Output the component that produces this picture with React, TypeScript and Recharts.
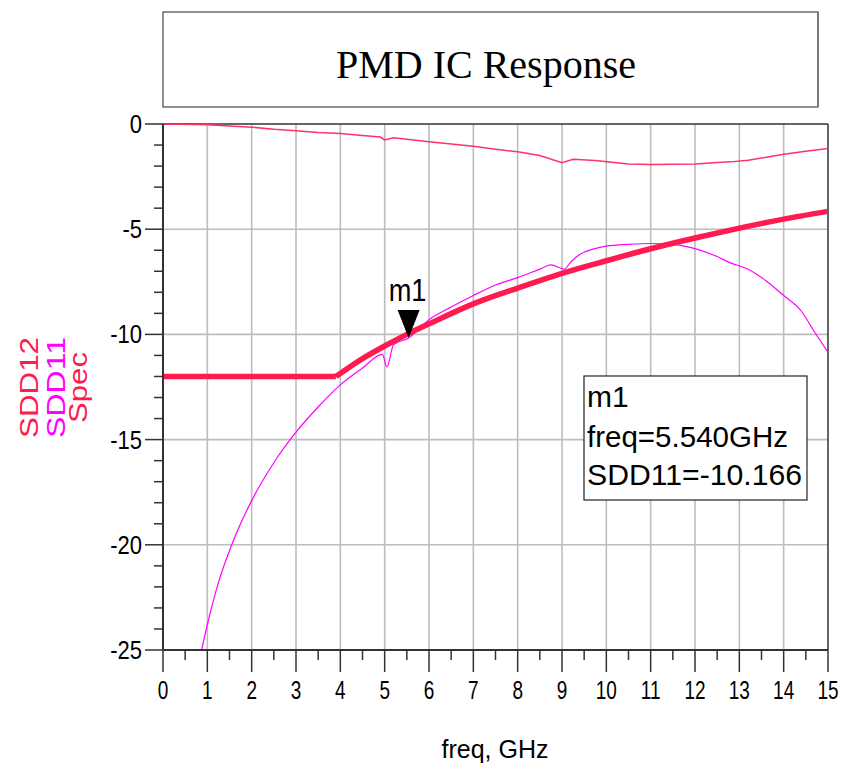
import React from 'react';
import { LineChart, Line, XAxis, YAxis, CartesianGrid, ReferenceLine, ReferenceDot } from 'recharts';

// 周波数 (GHz) と dB 値は図から読み取った
const sdd12Freq = [0, 1, 1.5, 2, 2.5, 3, 3.5, 4, 4.5, 4.9, 5.0, 5.2, 5.5, 6, 6.5, 7, 7.5, 8, 8.5, 9, 9.25, 9.75, 10.5, 11, 12, 12.5, 12.8, 13.2, 13.5, 14, 14.5, 15];
const sdd12Db = [0, -0.03, -0.1, -0.15, -0.25, -0.32, -0.4, -0.45, -0.55, -0.62, -0.76, -0.65, -0.72, -0.84, -0.95, -1.06, -1.2, -1.32, -1.5, -1.84, -1.68, -1.73, -1.9, -1.92, -1.9, -1.83, -1.8, -1.72, -1.62, -1.44, -1.3, -1.17];

const sdd11Freq = [0.87, 1.0, 1.25, 1.55, 2.0, 2.5, 3.0, 3.5, 4.0, 4.5, 4.95, 5.05, 5.2, 5.54, 6.0, 6.5, 7.0, 7.5, 8.0, 8.5, 8.75, 9.05, 9.2, 9.4, 9.7, 10, 10.5, 11, 11.5, 12, 12.5, 12.8, 13.2, 13.6, 14, 14.4, 14.7, 15];
const sdd11Db = [-25, -23.8, -21.8, -20, -17.9, -16.1, -14.65, -13.45, -12.4, -11.6, -10.95, -11.55, -10.5, -10.166, -9.3, -8.7, -8.15, -7.65, -7.3, -6.9, -6.7, -6.9, -6.55, -6.2, -5.95, -5.8, -5.72, -5.68, -5.72, -5.92, -6.3, -6.6, -6.9, -7.45, -8.15, -8.9, -9.9, -10.85];

// Spec: 3.9 GHz までは平坦、その後はゆるやかに上昇
const specFlatFreq = [0, 3.9];
const specFlatDb = [-12, -12];
const specRiseFreq = [3.9, 4.5, 5, 5.5, 6, 7, 8, 9, 10, 11, 12, 13, 14, 15];
const specRiseDb = [-12, -11.15, -10.55, -10.0, -9.5, -8.55, -7.8, -7.1, -6.5, -5.93, -5.42, -4.95, -4.52, -4.15];

const xTicks = [0, 0.5, 1, 1.5, 2, 2.5, 3, 3.5, 4, 4.5, 5, 5.5, 6, 6.5, 7, 7.5, 8, 8.5, 9, 9.5, 10, 10.5, 11, 11.5, 12, 12.5, 13, 13.5, 14, 14.5, 15];
const yTicks = [-25, -24, -23, -22, -21, -20, -19, -18, -17, -16, -15, -14, -13, -12, -11, -10, -9, -8, -7, -6, -5, -4, -3, -2, -1, 0];
const xGrid = [1, 2, 3, 4, 5, 6, 7, 8, 9, 10, 11, 12, 13, 14];
const yGrid = [-20, -15, -10, -5];

const markerFreq = 5.54;
const markerDb = -10.166;

const toRows = (f: number[], v: number[]) => f.map((x, i) => ({ f: x, v: v[i] }));

const sdd12Data = toRows(sdd12Freq, sdd12Db);
const sdd11Data = toRows(sdd11Freq, sdd11Db);
const specFlatData = toRows(specFlatFreq, specFlatDb);
const specRiseData = toRows(specRiseFreq, specRiseDb);

const RED = '#ff1a4f';
const MAGENTA = '#ff00ff';
const AXIS = '#333333';
const FONT = '"Liberation Sans", Arial, sans-serif';

const XTick = (props: any) => {
    const { x, y, payload } = props;
    const major = Number.isInteger(payload.value);
    return (
        <g>
            <line x1={x} y1={y} x2={x} y2={y + (major ? 22 : 10)} stroke={AXIS} strokeWidth={1.5} />
            {major && (
                <text
                    transform={`translate(${x},${y + 49}) scale(0.76,1)`}
                    textAnchor="middle"
                    fontSize={25}
                    fontFamily={FONT}
                    fill="#000"
                >
                    {payload.value}
                </text>
            )}
        </g>
    );
};

const YTick = (props: any) => {
    const { x, y, payload } = props;
    const major = payload.value % 5 === 0;
    return (
        <g>
            <line x1={x - (major ? 18 : 9)} y1={y} x2={x} y2={y} stroke={AXIS} strokeWidth={1.5} />
            {major && (
                <text
                    transform={`translate(${x - 21},${y + 9}) scale(0.88,1)`}
                    textAnchor="end"
                    fontSize={25}
                    fontFamily={FONT}
                    fill="#000"
                >
                    {payload.value}
                </text>
            )}
        </g>
    );
};

const MarkerShape = (props: any) => {
    const { cx, cy } = props;
    return (
        <g>
            <path d={`M ${cx} ${cy} L ${cx - 11} ${cy - 28} L ${cx + 11} ${cy - 28} Z`} fill="#000" />
            <text
                transform={`translate(${cx - 1},${cy - 37}) scale(0.85,1)`}
                textAnchor="middle"
                fontSize={32}
                fontFamily={FONT}
                fill="#000"
            >
                m1
            </text>
        </g>
    );
};

export default function App() {
    return (
        <div style={{ position: 'relative', width: 841, height: 760 }}>
            <LineChart
                width={841}
                height={760}
                margin={{ top: 116, right: 21, left: 95, bottom: 58 }}
            >
                <CartesianGrid
                    stroke="#bdbdbd"
                    strokeWidth={1.6}
                    horizontalValues={yGrid}
                    verticalValues={xGrid}
                />
                <XAxis
                    type="number"
                    dataKey="f"
                    domain={[0, 15]}
                    ticks={xTicks}
                    interval={0}
                    height={60}
                    tickSize={0}
                    tickMargin={0}
                    tickLine={false}
                    axisLine={{ stroke: AXIS, strokeWidth: 2 }}
                    tick={<XTick />}
                    allowDataOverflow
                />
                <YAxis
                    type="number"
                    domain={[-25, 0]}
                    ticks={yTicks}
                    interval={0}
                    width={60}
                    tickSize={0}
                    tickMargin={0}
                    tickLine={false}
                    axisLine={{ stroke: AXIS, strokeWidth: 2 }}
                    tick={<YTick />}
                    allowDataOverflow
                />
                <ReferenceLine y={0} stroke={AXIS} strokeWidth={1.5} />
                <ReferenceLine x={15} stroke={AXIS} strokeWidth={1.5} />
                <Line data={sdd12Data} dataKey="v" type="linear" stroke="#ff3366" strokeWidth={1.5} dot={false} isAnimationActive={false} />
                <Line data={sdd11Data} dataKey="v" type="monotone" stroke={MAGENTA} strokeWidth={1.2} dot={false} isAnimationActive={false} />
                <Line data={specFlatData} dataKey="v" type="linear" stroke={RED} strokeWidth={5.5} dot={false} isAnimationActive={false} />
                <Line data={specRiseData} dataKey="v" type="monotone" stroke={RED} strokeWidth={5.5} dot={false} isAnimationActive={false} />
                <ReferenceDot x={markerFreq} y={markerDb} r={0} shape={<MarkerShape />} />
            </LineChart>

            <svg width={841} height={760} style={{ position: 'absolute', left: 0, top: 0, pointerEvents: 'none' }}>
                <rect x={155} y={4} width={655} height={95} fill="#fff" stroke="#222" strokeWidth={1} />
                <line x1={810} y1={4} x2={810} y2={99} stroke="#777" strokeWidth={2} />
                <text x={478} y={70} textAnchor="middle" fontSize={40} fontFamily='"Liberation Serif", "Times New Roman", serif' fill="#000">
                    PMD IC Response
                </text>

                <rect x={576} y={368} width={223} height={124} fill="#fff" stroke="#222" strokeWidth={1.2} />
                <text x={579} y={399} fontSize={30} fontFamily={FONT} fill="#000">m1</text>
                <text x={579} y={439} fontSize={30} fontFamily={FONT} fill="#000" textLength={201} lengthAdjust="spacingAndGlyphs">freq=5.540GHz</text>
                <text x={579} y={477} fontSize={30} fontFamily={FONT} fill="#000" textLength={215} lengthAdjust="spacingAndGlyphs">SDD11=-10.166</text>

                <text transform="translate(30,379.5) rotate(-90)" textAnchor="middle" fontSize={25} fontFamily={FONT} fill={RED} textLength={101} lengthAdjust="spacingAndGlyphs">SDD12</text>
                <text transform="translate(57,379.5) rotate(-90)" textAnchor="middle" fontSize={25} fontFamily={FONT} fill={MAGENTA} textLength={101} lengthAdjust="spacingAndGlyphs">SDD11</text>
                <text transform="translate(79,379.5) rotate(-90)" textAnchor="middle" fontSize={25} fontFamily={FONT} fill={RED} textLength={71} lengthAdjust="spacingAndGlyphs">Spec</text>

                <text x={487} y={750} textAnchor="middle" fontSize={25} fontFamily={FONT} fill="#000">freq, GHz</text>
            </svg>
        </div>
    );
}
